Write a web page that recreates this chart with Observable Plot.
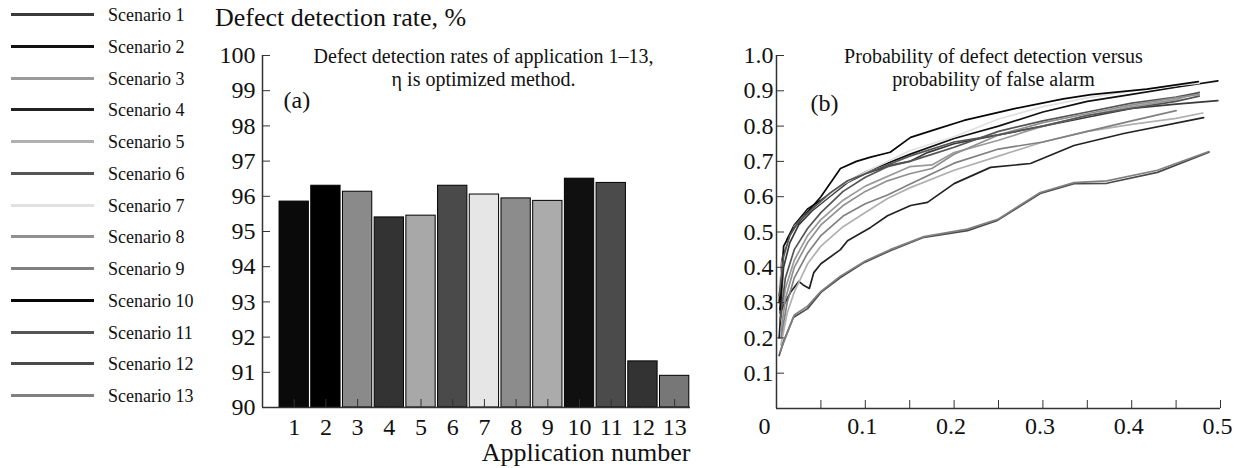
<!DOCTYPE html>
<html>
<head>
<meta charset="utf-8">
<script src="https://cdn.jsdelivr.net/npm/d3@7"></script>
<script src="https://cdn.jsdelivr.net/npm/@observablehq/plot@0.6"></script>
<style>
  html, body { margin: 0; padding: 0; background: #fff; }
  #page { position: relative; width: 1240px; height: 468px; overflow: hidden; font-family: "Liberation Serif", "DejaVu Serif", serif; color: #111; }
  #legend { position: absolute; left: 0; top: 0; }
  .row { position: absolute; left: 0; width: 210px; height: 24px; }
  .sw { position: absolute; left: 11px; width: 83px; height: 3px; top: 10px; }
  .lb { position: absolute; left: 108px; top: 0; font-size: 18px; line-height: 24px; white-space: nowrap; }
  #title { position: absolute; left: 215px; top: 3px; font-size: 26px; white-space: nowrap; }
  #chartA { position: absolute; left: 205px; top: 40px; }
  #chartB { position: absolute; left: 730px; top: 40px; }
  #chartA svg, #chartB svg, #chartA svg text, #chartB svg text, #chartA svg g, #chartB svg g { font-family: "Liberation Serif", "DejaVu Serif", serif !important; }
</style>
</head>
<body>
<div id="page">
  <div id="legend"></div>
  <div id="title"></div>
  <div id="chartA"></div>
  <div id="chartB"></div>
</div>
<script>
// ---------- data ----------
const scenarios = ["Scenario 1","Scenario 2","Scenario 3","Scenario 4","Scenario 5","Scenario 6","Scenario 7","Scenario 8","Scenario 9","Scenario 10","Scenario 11","Scenario 12","Scenario 13"];
const lineColors = ["#3a3a3a","#111111","#9a9a9a","#222222","#b0b0b0","#555555","#e0e0e0","#909090","#808080","#080808","#555555","#4a4a4a","#808080"];

const apps = [1,2,3,4,5,6,7,8,9,10,11,12,13];
const detectionRates = [95.85,96.3,96.13,95.4,95.45,96.3,96.05,95.94,95.87,96.5,96.38,91.31,90.9];
const barColors = ["#0a0a0a","#000000","#8a8a8a","#333333","#a8a8a8","#4a4a4a","#e6e6e6","#8c8c8c","#ababab","#101010","#4b4b4b","#333333","#777777"];

const yTicksA = [90,91,92,93,94,95,96,97,98,99,100];
const yTicksB = [0.1,0.2,0.3,0.4,0.5,0.6,0.7,0.8,0.9,1.0];
const xTicksB = [0.1,0.2,0.3,0.4,0.5];
const xOriginTickB = [0];
const xMinorTicksB = [0,0.05,0.1,0.15,0.2,0.25,0.3,0.35,0.4,0.45,0.5];

const titleText = "Defect detection rate, %";
const xLabelA = "Application number";
const subtitleA = "Defect detection rates of application 1\u201313,\n\u03b7 is optimized method.";
const subtitleB = "Probability of defect detection versus\nprobability of false alarm";
const panelA = "(a)";
const panelB = "(b)";

// ROC curves: [probability of false alarm, probability of detection]
const s1 = [[0.004,0.27],[0.008,0.4],[0.015,0.47],[0.025,0.52],[0.04,0.56],[0.06,0.6],[0.08,0.64],[0.1,0.665],[0.13,0.69],[0.15,0.70],[0.17,0.725],[0.2,0.75],[0.25,0.775],[0.3,0.80],[0.35,0.825],[0.4,0.85],[0.45,0.862],[0.497,0.872]];
const s2 = [[0.003,0.3],[0.006,0.42],[0.012,0.48],[0.02,0.52],[0.035,0.565],[0.05,0.59],[0.075,0.635],[0.1,0.67],[0.125,0.695],[0.15,0.72],[0.2,0.765],[0.25,0.80],[0.3,0.84],[0.35,0.87],[0.4,0.89],[0.45,0.91],[0.497,0.928]];
const s3 = [[0.004,0.24],[0.01,0.34],[0.02,0.42],[0.035,0.49],[0.05,0.535],[0.075,0.59],[0.1,0.63],[0.15,0.685],[0.175,0.69],[0.2,0.725],[0.25,0.76],[0.3,0.80],[0.35,0.83],[0.4,0.855],[0.45,0.875],[0.476,0.896]];
const s4 = [[0.003,0.2],[0.005,0.277],[0.016,0.33],[0.025,0.36],[0.03,0.35],[0.037,0.34],[0.042,0.385],[0.05,0.41],[0.072,0.45],[0.08,0.475],[0.106,0.513],[0.125,0.546],[0.151,0.575],[0.17,0.584],[0.2,0.637],[0.241,0.683],[0.286,0.694],[0.335,0.745],[0.391,0.779],[0.481,0.824]];
const s5 = [[0.005,0.18],[0.012,0.27],[0.02,0.33],[0.035,0.41],[0.05,0.46],[0.075,0.515],[0.1,0.555],[0.125,0.595],[0.15,0.625],[0.2,0.675],[0.25,0.715],[0.3,0.755],[0.35,0.785],[0.4,0.805],[0.45,0.822],[0.48,0.837]];
const s6 = [[0.004,0.25],[0.01,0.37],[0.02,0.45],[0.035,0.51],[0.05,0.555],[0.075,0.615],[0.1,0.655],[0.125,0.685],[0.15,0.70],[0.175,0.72],[0.2,0.74],[0.25,0.785],[0.3,0.815],[0.35,0.84],[0.4,0.865],[0.45,0.882],[0.476,0.895]];
const s7 = [[0.003,0.34],[0.008,0.45],[0.02,0.515],[0.035,0.555],[0.05,0.585],[0.075,0.635],[0.1,0.67],[0.125,0.70],[0.15,0.73],[0.2,0.77],[0.25,0.82],[0.3,0.855],[0.35,0.88],[0.4,0.90],[0.45,0.915],[0.476,0.922]];
const s8 = [[0.005,0.22],[0.01,0.31],[0.02,0.40],[0.035,0.47],[0.05,0.52],[0.075,0.575],[0.1,0.615],[0.125,0.645],[0.15,0.665],[0.175,0.68],[0.2,0.72],[0.25,0.775],[0.3,0.81],[0.35,0.835],[0.4,0.86],[0.45,0.88],[0.476,0.89]];
const s9 = [[0.005,0.2],[0.012,0.3],[0.02,0.37],[0.035,0.44],[0.05,0.49],[0.075,0.545],[0.1,0.58],[0.125,0.605],[0.15,0.635],[0.2,0.695],[0.25,0.735],[0.3,0.755],[0.35,0.785],[0.4,0.815],[0.45,0.844]];
const s10 = [[0.004,0.28],[0.008,0.46],[0.019,0.51],[0.031,0.545],[0.05,0.60],[0.072,0.68],[0.09,0.70],[0.106,0.712],[0.128,0.726],[0.151,0.768],[0.181,0.792],[0.211,0.816],[0.267,0.849],[0.323,0.877],[0.354,0.889],[0.417,0.905],[0.475,0.926]];
const s11 = [[0.003,0.32],[0.008,0.43],[0.015,0.49],[0.025,0.53],[0.04,0.565],[0.06,0.61],[0.08,0.645],[0.1,0.665],[0.125,0.69],[0.15,0.715],[0.2,0.755],[0.25,0.775],[0.3,0.80],[0.35,0.83],[0.4,0.85],[0.45,0.87],[0.476,0.885]];
const s12 = [[0.003,0.15],[0.008,0.19],[0.019,0.258],[0.035,0.283],[0.05,0.329],[0.072,0.371],[0.099,0.414],[0.128,0.447],[0.166,0.485],[0.215,0.504],[0.248,0.532],[0.297,0.609],[0.335,0.637],[0.372,0.638],[0.429,0.669],[0.487,0.726]];
const s13 = [[0.004,0.16],[0.01,0.2],[0.02,0.265],[0.035,0.29],[0.05,0.332],[0.072,0.375],[0.1,0.418],[0.128,0.45],[0.166,0.487],[0.215,0.508],[0.25,0.537],[0.297,0.612],[0.335,0.64],[0.372,0.645],[0.429,0.675],[0.487,0.728]];
const scenarioCurves = [s1,s2,s3,s4,s5,s6,s7,s8,s9,s10,s11,s12,s13];

// ---------- derived tables ----------
const bars = apps.map((a, i) => ({app: a, rate: detectionRates[i]}));
const rocPoints = scenarioCurves.flatMap((curve, i) => curve.map(([fpr, tpr]) => ({scenario: scenarios[i], fpr, tpr})));

// ---------- legend & title ----------
document.getElementById("title").textContent = titleText;
const legend = document.getElementById("legend");
scenarios.forEach((s, i) => {
  const row = document.createElement("div");
  row.className = "row";
  row.style.top = (3 + i * 31.75) + "px";
  const sw = document.createElement("div");
  sw.className = "sw";
  sw.style.background = lineColors[i];
  const lb = document.createElement("div");
  lb.className = "lb";
  lb.textContent = s;
  row.appendChild(sw); row.appendChild(lb);
  legend.appendChild(row);
});

const font = "Liberation Serif";
const plotStyle = "font-family: 'Liberation Serif', 'DejaVu Serif', serif; font-size: 24px; background: transparent; color: #111; overflow: visible;";

// ---------- panel (a) ----------
const chartA = Plot.plot({
  width: 495, height: 428,
  marginLeft: 57, marginRight: 10, marginTop: 15, marginBottom: 61,
  style: plotStyle,
  x: {domain: [0, 13.5], axis: null},
  y: {domain: [90, 100], axis: null},
  color: {domain: apps, range: barColors},
  marks: [
    Plot.rectY(bars, {x1: d => d.app - 0.5, x2: d => d.app + 0.5, y1: 90, y2: "rate", fill: "app", stroke: "#000", strokeWidth: 1, insetLeft: 1.2, insetRight: 1.2}),
    Plot.ruleX([0], {stroke: "#333", strokeWidth: 1.5}),
    Plot.ruleY([90], {stroke: "#333", strokeWidth: 1.5}),
    Plot.axisY({ticks: yTicksA, tickSize: -8, tickPadding: 15, tickFormat: d => String(d), fontSize: 24, fontFamily: font, stroke: "#333", label: null}),
    Plot.axisX({ticks: apps, tickSize: -8, tickPadding: 18, tickFormat: d => String(d), fontSize: 24, fontFamily: font, stroke: "#333", label: null}),
    Plot.text([xLabelA], {frameAnchor: "bottom-right", textAnchor: "end", lineAnchor: "middle", dy: 45, fontSize: 26, fontFamily: font}),
    Plot.text([subtitleA], {frameAnchor: "top", lineAnchor: "top", dx: 7, dy: -8, fontSize: 20, lineHeight: 1.12, fontFamily: font}),
    Plot.text([panelA], {frameAnchor: "top-left", textAnchor: "start", lineAnchor: "middle", dx: 21, dy: 45, fontSize: 24, fontFamily: font})
  ]
});
document.getElementById("chartA").appendChild(chartA);

// ---------- panel (b) ----------
const chartB = Plot.plot({
  width: 510, height: 428,
  marginLeft: 46, marginRight: 20, marginTop: 15, marginBottom: 60,
  style: plotStyle,
  x: {domain: [0, 0.5], axis: null},
  y: {domain: [0, 1], axis: null},
  color: {domain: scenarios, range: lineColors},
  marks: [
    Plot.line(rocPoints, {x: "fpr", y: "tpr", z: "scenario", stroke: "scenario", strokeWidth: 1.7, curve: "linear"}),
    Plot.ruleX([0], {stroke: "#333", strokeWidth: 1.5}),
    Plot.ruleY([0], {stroke: "#333", strokeWidth: 1.5}),
    Plot.axisY({ticks: yTicksB, tickSize: -8, tickPadding: 11, tickFormat: d => d.toFixed(1), fontSize: 24, fontFamily: font, stroke: "#333", label: null}),
    Plot.axisX({ticks: xMinorTicksB, tickSize: -8, tickFormat: () => "", stroke: "#333", label: null}),
    Plot.axisX({ticks: xTicksB, tickSize: 0, tickPadding: 8, dx: -3, tickFormat: d => d.toFixed(1), fontSize: 24, fontFamily: font, label: null}),
    Plot.axisX({ticks: xOriginTickB, tickSize: 0, tickPadding: 8, dx: -12, tickFormat: d => String(d), fontSize: 24, fontFamily: font, label: null}),
    Plot.text([subtitleB], {frameAnchor: "top", lineAnchor: "top", dx: -5, dy: -8, fontSize: 20, lineHeight: 1.12, fontFamily: font}),
    Plot.text([panelB], {frameAnchor: "top-left", textAnchor: "start", lineAnchor: "middle", dx: 34, dy: 48, fontSize: 24, fontFamily: font})
  ]
});
document.getElementById("chartB").appendChild(chartB);
</script>
</body>
</html>
